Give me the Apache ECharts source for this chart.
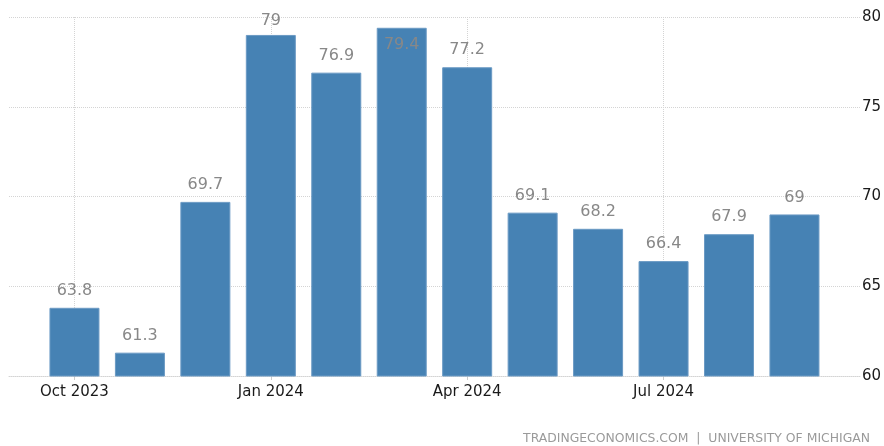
<!DOCTYPE html>
<html><head><meta charset="utf-8">
<script src="https://cdn.jsdelivr.net/npm/echarts@6/dist/echarts.min.js"></script>
<style>html,body{margin:0;padding:0;background:#fff}#c{width:884px;height:446px}</style>
</head><body><div id="c"></div>
<script>
var months = ["Oct 2023","Nov 2023","Dec 2023","Jan 2024","Feb 2024","Mar 2024","Apr 2024","May 2024","Jun 2024","Jul 2024","Aug 2024","Sep 2024"];
var values = [63.8, 61.3, 69.7, 79, 76.9, 79.4, 77.2, 69.1, 68.2, 66.4, 67.9, 69];
var shownLabels = ["Oct 2023","Jan 2024","Apr 2024","Jul 2024"];
var yTicks = [60, 65, 70, 75, 80];

var xData = [''].concat(months).concat(['']);
var sData = ['-'].concat(values.map(function(v){
  if (v >= 79.3) return {value: v, label: {position: 'insideTop', distance: 9}};
  if (v >= 78.5) return {value: v, label: {distance: 6}};
  return v;
})).concat(['-']);
function isShown(i, v){ return shownLabels.indexOf(xData[i]) >= 0; }

var chart = echarts.init(document.getElementById('c'));
chart.setOption({
  animation: false,
  grid: {left: 9, right: 22, top: 17, bottom: 70, containLabel: false},
  xAxis: {
    type: 'category', data: xData, boundaryGap: false,
    axisLine: {show: true, lineStyle: {color: '#d4d4d4', type: [1, 1], width: 1}},
    axisTick: {show: true, length: 4, interval: isShown, lineStyle: {color: '#cccccc'}},
    axisLabel: {interval: isShown, color: '#1a1a1a', fontSize: 15, fontFamily: 'DejaVu Sans', margin: 9},
    splitLine: {show: true, interval: isShown, lineStyle: {color: '#d4d4d4', type: [1, 1], width: 1}}
  },
  yAxis: {
    type: 'value', position: 'right', min: yTicks[0], max: yTicks[yTicks.length-1], interval: 5,
    axisLine: {show: false}, axisTick: {show: false},
    axisLabel: {color: '#1a1a1a', fontSize: 15, fontFamily: 'DejaVu Sans', margin: 2},
    splitLine: {show: true, lineStyle: {color: '#d4d4d4', type: [1, 1], width: 1}}
  },
  series: [{
    type: 'bar', data: sData, barWidth: 50,
    itemStyle: {color: '#4682b4', borderColor: '#6b9ac4', borderWidth: 1},
    label: {show: true, position: 'top', distance: 9, color: '#888888', fontSize: 16, fontFamily: 'DejaVu Sans'}
  }],
  graphic: [{
    type: 'text', right: 14, bottom: 1,
    style: {text: 'TRADINGECONOMICS.COM  |  UNIVERSITY OF MICHIGAN', fill: '#9a9a9a', font: '12.4px "DejaVu Sans"'}
  }]
});
</script></body></html>
